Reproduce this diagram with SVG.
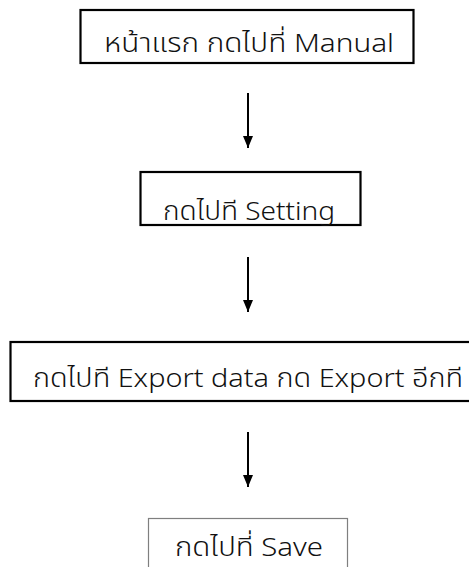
<svg xmlns="http://www.w3.org/2000/svg" width="469" height="567" viewBox="0 0 469 567">
  <defs>
    <style>
      .box { fill: #fff; stroke: #000; stroke-width: 2.2; }
      .box-thin { fill: #fff; stroke: #7f7f7f; stroke-width: 1.2; }
      .label { font-family: "Noto Sans Thai", "Noto Sans", "DejaVu Sans", sans-serif; font-size: 26px; font-weight: 300; fill: #111; }
      .conn { stroke: #000; stroke-width: 2; fill: none; }
    </style>
    <marker id="arrow" viewBox="0 0 12 10" refX="12" refY="5" markerWidth="12" markerHeight="10" markerUnits="userSpaceOnUse" orient="auto">
      <path d="M0,0 L12,5 L0,10 Z" fill="#000"/>
    </marker>
  </defs>
  <rect width="469" height="567" fill="#fff"/>

  <g id="step-home">
    <rect class="box" x="80.5" y="10" width="333" height="53"/>
    <text class="label" x="104" y="52" textLength="290" lengthAdjust="spacingAndGlyphs">หน้าแรก กดไปที่ Manual</text>
  </g>

  <g id="step-setting">
    <rect class="box" x="140.5" y="172" width="220" height="53"/>
    <text class="label" x="163" y="220" textLength="172" lengthAdjust="spacingAndGlyphs">กดไปที Setting</text>
  </g>

  <g id="step-export">
    <rect class="box" x="10.5" y="342" width="470" height="59"/>
    <text class="label" x="33" y="387" textLength="430" lengthAdjust="spacingAndGlyphs">กดไปที Export data กด Export อีกที</text>
  </g>

  <g id="step-save">
    <rect class="box-thin" x="148.5" y="518.5" width="199" height="60"/>
    <text class="label" x="175" y="556" textLength="148" lengthAdjust="spacingAndGlyphs">กดไปที่ Save</text>
  </g>

  <g id="connectors">
    <path class="conn" d="M248,93 V148" marker-end="url(#arrow)"/>
    <path class="conn" d="M248,257 V312" marker-end="url(#arrow)"/>
    <path class="conn" d="M248,432 V487" marker-end="url(#arrow)"/>
  </g>
</svg>
